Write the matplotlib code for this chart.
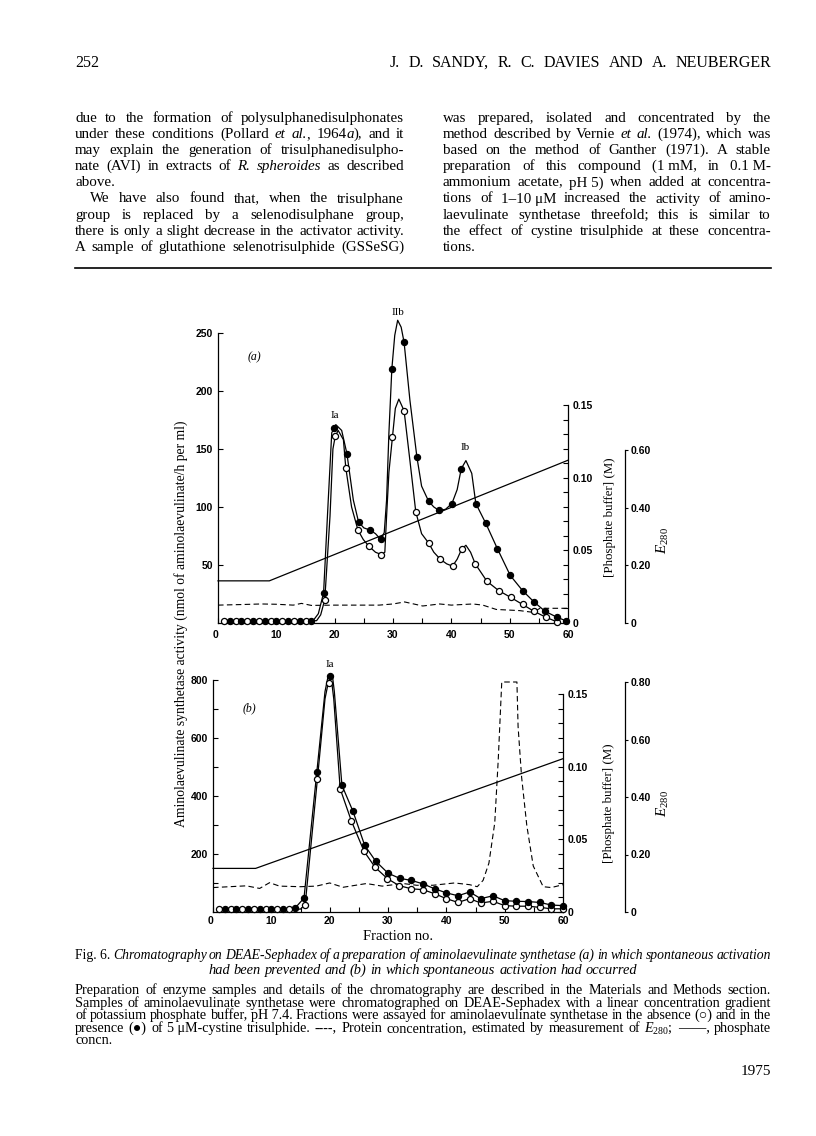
import numpy as np
import matplotlib
matplotlib.use('Agg')
import matplotlib.pyplot as plt
from matplotlib.lines import Line2D
from matplotlib.font_manager import FontProperties

# page size in pixels (saved at dpi 100)
W, H = 816, 1136
SERIF = ['Liberation Serif', 'DejaVu Serif', 'DejaVu Sans']
TICKF = 'Liberation Sans'

plt.rcParams['mathtext.fontset'] = 'custom'
plt.rcParams['mathtext.rm'] = 'Liberation Serif'
plt.rcParams['mathtext.it'] = 'Liberation Serif:italic'

## Panel (a): spontaneous activation prevented
# assay points, open = no trisulphide, filled = with trisulphide
a_open_x = [1, 3, 5, 7, 9, 11, 13, 15, 18.3, 20.1, 21.9, 24.0, 25.9, 28.0, 29.9, 31.9,
            33.9, 36.1, 38.1, 40.2, 41.8, 44.1, 46.1, 48.1, 50.2, 52.2, 54.2, 56.2, 58.1]
a_open_y = [2, 2, 2, 2, 2, 2, 2, 2, 20, 161, 134, 80, 66, 59, 160, 183,
            96, 69, 55, 49, 64, 51, 36, 28, 22, 16, 10, 5, 1]
a_fill_x = [2, 4, 6, 8, 10, 12, 14, 16, 18.1, 19.8, 22.1, 24.1, 26.1, 27.9, 29.8, 31.9,
            34.1, 36.1, 37.9, 40.1, 41.7, 44.2, 45.9, 47.9, 50.1, 52.2, 54.2, 56.1, 58.1, 59.6]
a_fill_y = [2, 2, 2, 2, 2, 2, 2, 2, 26, 168, 146, 87, 80, 72, 219, 242,
            143, 105, 97, 103, 133, 103, 86, 64, 41, 28, 18, 10, 5, 2]
# hand-drawn curves through the points (vertices)
a_fill_cx = [1, 16.3, 17.2, 18.1, 18.9, 19.5, 20.2, 21.2, 22.1, 23.2, 24.1, 25.0, 26.1, 27.0,
             27.9, 28.5, 28.9, 29.3, 29.8, 30.3, 30.8, 31.4, 31.9, 32.9, 34.1, 34.9, 36.1,
             37.0, 37.9, 39.0, 40.1, 41.0, 41.7, 42.5, 43.5, 44.2, 45.9, 47.9, 50.1, 52.2,
             54.2, 56.1, 58.1, 59.6]
a_fill_cy = [2, 2, 8, 26, 106, 164, 171, 166, 146, 106, 87, 82, 80, 77,
             72, 78, 106, 164, 219, 248, 261, 255, 242, 192, 143, 118, 105,
             100, 97, 98, 103, 115, 133, 140, 129, 103, 86, 64, 41, 28,
             18, 10, 5, 2]
a_open_cx = [1, 16.9, 17.6, 18.3, 19.2, 19.7, 20.1, 20.6, 21.5, 21.9, 22.9, 24.0, 24.9, 25.9,
             27.0, 28.0, 28.6, 28.9, 29.3, 29.9, 30.4, 31.0, 31.9, 32.9, 33.9, 34.9, 36.1,
             37.0, 38.1, 39.2, 40.2, 41.0, 41.8, 42.5, 43.3, 44.1, 46.1, 48.1, 50.2, 52.2,
             54.2, 56.2, 58.1]
a_open_cy = [2, 2, 7, 20, 92, 150, 161, 166, 158, 134, 100, 80, 72, 66,
             61, 59, 61, 92, 130, 160, 185, 193, 183, 140, 96, 77, 69,
             61, 55, 51, 49, 55, 64, 67, 61, 51, 36, 28, 22, 16,
             10, 5, 1]
# phosphate gradient (M) and E280 (dashed)
a_ph_x = [0, 8.8, 60]
a_ph_y = [0.029, 0.029, 0.112]
a_e_x = [0, 4, 7.4, 10, 12.9, 14.3, 16, 20, 25, 27.6, 30, 32, 35.1, 38, 40, 43.7,
         45.4, 47.7, 51.7, 54, 55.2, 60]
a_e_y = [0.062, 0.064, 0.066, 0.065, 0.062, 0.068, 0.061, 0.062, 0.062, 0.062, 0.066,
         0.073, 0.059, 0.066, 0.062, 0.066, 0.062, 0.047, 0.043, 0.037, 0.051, 0.051]

## Panel (b): spontaneous activation had occurred
b_open_x = [1, 3, 5, 7, 9, 11, 13, 15.8, 17.9, 19.9, 21.8, 23.7, 25.9, 27.8, 29.9, 31.9,
            34, 36, 38, 40, 42, 44, 45.9, 48, 50, 52, 54, 56, 58, 60]
b_open_y = [10, 10, 10, 10, 10, 10, 10, 25, 459, 790, 425, 315, 209, 154, 115, 91,
            80, 77, 63, 46, 33, 46, 31, 37, 22, 20, 20, 16, 11, 11]
b_fill_x = [2, 4, 6, 8, 10, 12, 14, 15.6, 17.8, 20.0, 22.1, 24, 26, 27.9, 30, 32,
            34, 36, 38, 40, 42, 44, 45.9, 48, 50, 52, 54, 56, 58, 60]
b_fill_y = [10, 10, 10, 10, 10, 10, 14, 48, 483, 813, 437, 347, 230, 175, 134, 116,
            109, 97, 80, 66, 56, 69, 46, 56, 39, 37, 36, 33, 24, 22]
b_fill_cx = [2, 14, 15.6, 17.8, 19.2, 19.7, 20.1, 20.5, 20.8, 22.1, 24, 26, 27.9, 30, 32,
             34, 36, 38, 40, 42, 44, 45.9, 48, 50, 52, 54, 56, 58, 60]
b_fill_cy = [10, 12, 48, 483, 760, 810, 818, 810, 760, 437, 347, 230, 175, 134, 116,
             109, 97, 80, 66, 56, 69, 46, 56, 39, 37, 36, 33, 24, 22]
b_open_cx = [1, 15, 15.8, 17.9, 19.2, 19.7, 20.1, 20.4, 20.7, 21.8, 23.7, 25.9, 27.8, 29.9,
             31.9, 34, 36, 38, 40, 42, 44, 45.9, 48, 50, 52, 54, 56, 58, 60]
b_open_cy = [10, 10, 25, 459, 735, 785, 793, 785, 735, 425, 315, 209, 154, 115,
             91, 80, 77, 63, 46, 33, 46, 31, 37, 22, 20, 20, 16, 11, 11]
b_ph_x = [0, 7.3, 60]
b_ph_y = [0.030, 0.030, 0.1055]
b_e_x = [0, 5.7, 8, 9.7, 11.4, 15, 17.7, 20, 22.3, 26.3, 29, 32.6, 34.9, 37.7, 41.4, 44,
         45.3, 46.3, 47.3, 48.3, 48.9, 49.5, 52.1, 52.3, 52.9, 53.8, 54.9, 56.6, 58, 60]
b_e_y = [0.085, 0.091, 0.082, 0.102, 0.090, 0.088, 0.090, 0.101, 0.086, 0.099, 0.090,
         0.099, 0.093, 0.093, 0.101, 0.095, 0.088, 0.11, 0.17, 0.31, 0.53, 0.80, 0.80,
         0.645, 0.47, 0.30, 0.16, 0.088, 0.085, 0.095]

# tick labels
x_ticks = [0, 10, 20, 30, 40, 50, 60]
a_yticks = [50, 100, 150, 200, 250]
b_yticks = [200, 400, 600, 800]
b_yminor = [100, 300, 500, 700]
ph_ticks = [0, 0.05, 0.10, 0.15]
ph_labels = ['0', '0.05', '0.10', '0.15']
a_eticks = [0, 0.2, 0.4, 0.6]
a_elabels = ['0', '0.20', '0.40', '0.60']
b_eticks = [0, 0.2, 0.4, 0.6, 0.8]
b_elabels = ['0', '0.20', '0.40', '0.60', '0.80']

# peak names and where they sit (data coords)
a_peaks = [('Ia', 20.1, 179), ('IIb', 30.9, 268), ('Ib', 42.3, 151)]
b_peaks = [('Ia', 20.1, 852)]

## Page text
header_l = '252'
header_r = 'J. D. SANDY, R. C. DAVIES AND A. NEUBERGER'
col_left = [
    'due to the formation of polysulphanedisulphonates',
    'under these conditions (Pollard *et al.*, 1964*a*), and it',
    'may explain the generation of trisulphanedisulpho-',
    'nate (AVI) in extracts of *R. spheroides* as described',
    'above.',
    'We have also found that, when the trisulphane',
    'group is replaced by a selenodisulphane group,',
    'there is only a slight decrease in the activator activity.',
    'A sample of glutathione selenotrisulphide (GSSeSG)',
]
col_right = [
    'was prepared, isolated and concentrated by the',
    'method described by Vernie *et al.* (1974), which was',
    'based on the method of Ganther (1971). A stable',
    'preparation of this compound (1\u00a0mM, in 0.1\u00a0M-',
    'ammonium acetate, pH\u00a05) when added at concentra-',
    'tions of 1\u201310\u00a0\u03bcM increased the activity of amino-',
    'laevulinate synthetase threefold; this is similar to',
    'the effect of cystine trisulphide at these concentra-',
    'tions.',
]
fig_title = [
    'Fig.\u00a06. *Chromatography on DEAE-Sephadex of a preparation of aminolaevulinate '
    'synthetase (a) in which spontaneous activation*',
    '*had been prevented and (b) in which spontaneous activation had occurred*',
]
fig_legend = [
    'Preparation of enzyme samples and details of the chromatography are described in the '
    'Materials and Methods section.',
    'Samples of aminolaevulinate synthetase were chromatographed on DEAE-Sephadex with a '
    'linear concentration gradient',
    'of potassium phosphate buffer, pH\u00a07.4. Fractions were assayed for aminolaevulinate '
    'synthetase in the absence (\u25cb) and in the',
    'presence (\u25cf) of 5\u00a0\u03bcM-cystine trisulphide. ----, Protein concentration, '
    'estimated by measurement of $E_{280}$; \u2014\u2014, phosphate',
    'concn.',
]
footer = '1975'
ylab = 'Aminolaevulinate synthetase activity (nmol of aminolaevulinate/h per ml)'

fig = plt.figure(figsize=(W / 100, H / 100), dpi=100)
R = fig.canvas.get_renderer()


def box(x0, y0, x1, y1):
    # pixel box, origin top-left -> figure rect
    return [x0 / W, 1 - y1 / H, (x1 - x0) / W, (y1 - y0) / H]


def ftext(x, y, s, **kw):
    return fig.text(x / W, 1 - y / H, s, **kw)


def parse(line):
    words, ital = [], False
    for w in line.split(' '):
        segs = []
        for k, p in enumerate(w.split('*')):
            if k:
                ital = not ital
            if p:
                segs.append((p, ital))
        words.append(segs)
    return words


def width(s, ital, size):
    fp = FontProperties(family=SERIF, style='italic' if ital else 'normal', size=size)
    return R.get_text_width_height_descent(s, fp, ismath='$' in s)[0]


# one line of type, justified between x0 and x1 unless told otherwise
def put(line, x0, x1, y, size, just=True, align='left'):
    words = parse(line)
    while True:
        ws = [[width(s, it, size) for s, it in segs] for segs in words]
        tot = sum(sum(w) for w in ws)
        n = len(words)
        gap = (x1 - x0 - tot) / (n - 1) if (just and n > 1) else size * 1.389 * 0.25
        if gap >= 2.2 or size < 6:
            break
        size -= 0.1
    run = tot + gap * (n - 1)
    x = x0 if align == 'left' else (x1 - run if align == 'right' else (x0 + x1 - run) / 2)
    for segs, w in zip(words, ws):
        for (s, it), wi in zip(segs, w):
            ftext(x, y, s, fontsize=size, family=SERIF, style='italic' if it else 'normal',
                  va='baseline', ha='left')
            x += wi
        x += gap


def panel(px, ymax, ymaj, ymin, ph_top, e_top, e_pos, eticks, elabels, xpad):
    ax = fig.add_axes(box(*px))
    ax.set_xlim(0, 60)
    ax.set_ylim(0, ymax)
    for s in ['top', 'right']:
        ax.spines[s].set_visible(False)
    lab = dict(fontfamily=TICKF, fontweight='bold', fontsize=7.5)
    ax.set_xticks(x_ticks, [str(t) for t in x_ticks], **lab)
    ax.set_xticks([5, 15, 25, 35, 45, 55], minor=True)
    ax.set_yticks(ymaj, [str(t) for t in ymaj], **lab)
    ax.set_yticks(ymin, minor=True)
    ax.tick_params(which='both', direction='in', length=3.3, width=0.8)
    ax.tick_params(axis='x', pad=xpad)
    ax.tick_params(axis='y', pad=3.6)
    ax.xaxis.get_major_ticks()[0].label1.set_horizontalalignment('right')

    ph = ax.twinx()
    ph.set_ylim(0, ph_top)
    for s in ['top', 'left', 'bottom']:
        ph.spines[s].set_visible(False)
    ph.spines['right'].set_bounds(0, 0.15)
    ph.set_yticks(ph_ticks, ph_labels, **lab)
    ph.set_yticks(np.linspace(0, 0.15, 16), minor=True)
    ph.tick_params(which='both', direction='in', length=3.3, width=0.8, pad=3.6)

    e = ax.twinx()
    e.set_ylim(0, e_top)
    for s in ['top', 'left', 'bottom']:
        e.spines[s].set_visible(False)
    e.spines['right'].set_position(('axes', e_pos))
    e.spines['right'].set_bounds(0, eticks[-1])
    e.set_yticks(eticks, elabels, **lab)
    e.tick_params(direction='out', length=2.2, width=0.8, pad=1.5)

    for a in (ax, ph, e):
        for s in a.spines.values():
            s.set_linewidth(0.9)
    # activity curves on top of the other two layers
    ax.set_zorder(3)
    ax.patch.set_visible(False)
    return ax, ph, e


def curves(ax, ph, e, ox, oy, fx, fy, ocx, ocy, fcx, fcy, phx, phy, ex, ey):
    e.plot(ex, ey, color='k', lw=0.8, ls=(0, (5, 3)), clip_on=False)
    ph.plot(phx, phy, color='k', lw=0.9, clip_on=False)
    ax.plot(fcx, fcy, color='k', lw=0.9, clip_on=False, zorder=3)
    ax.plot(ocx, ocy, color='k', lw=0.9, clip_on=False, zorder=3)
    ax.plot(ox, oy, 'o', ms=4.4, mfc='white', mec='k', mew=0.9, clip_on=False, zorder=4)
    ax.plot(fx, fy, 'o', ms=4.4, mfc='k', mec='k', mew=0.9, clip_on=False, zorder=5)


axa, pha, ea = panel((218, 333, 568, 623), 250, a_yticks, [], 0.15 * 290 / 218,
                     0.6 * 290 / 173, (625 - 218) / 350, a_eticks, a_elabels, 5.2)
curves(axa, pha, ea, a_open_x, a_open_y, a_fill_x, a_fill_y, a_open_cx, a_open_cy,
       a_fill_cx, a_fill_cy, a_ph_x, a_ph_y, a_e_x, a_e_y)
for name, x, y in a_peaks:
    axa.text(x, y, name, family=SERIF, fontsize=8, ha='center', va='center')
axa.text(0.105, 0.915, '(a)', transform=axa.transAxes, family=SERIF, style='italic',
         fontsize=8.5, ha='center', va='center')

axb, phb, eb = panel((213, 680, 563, 912), 800, b_yticks, b_yminor, 0.15 * 232 / 218,
                     0.8 * 232 / 230, (625 - 213) / 350, b_eticks, b_elabels, 3.0)
curves(axb, phb, eb, b_open_x, b_open_y, b_fill_x, b_fill_y, b_open_cx, b_open_cy,
       b_fill_cx, b_fill_cy, b_ph_x, b_ph_y, b_e_x, b_e_y)
for name, x, y in b_peaks:
    axb.text(x, y, name, family=SERIF, fontsize=8, ha='center', va='center')
axb.text(0.103, 0.88, '(b)', transform=axb.transAxes, family=SERIF, style='italic',
         fontsize=8.5, ha='center', va='center')

# axis titles
ftext(181, 624, ylab, family=SERIF, fontsize=9.8, rotation=90, ha='center', va='center')
ftext(610, 517, '[Phosphate buffer] (M)', family=SERIF, fontsize=9.3, rotation=90,
      ha='center', va='center')
ftext(609, 803, '[Phosphate buffer] (M)', family=SERIF, fontsize=9.3, rotation=90,
      ha='center', va='center')
ftext(663, 540, '$E_{280}$', fontsize=11, rotation=90, ha='center', va='center')
ftext(663, 803, '$E_{280}$', fontsize=11, rotation=90, ha='center', va='center')
ftext(398, 937, 'Fraction no.', family=SERIF, fontsize=10.5, ha='center', va='center')

# running head, columns, rule
L, Rt = 75, 771
put(header_l, L, Rt, 67, 11.5, just=False)
put(header_r, 390, Rt, 67, 11.5)
for i, line in enumerate(col_left):
    put(line, L + (15 if i == 5 else 0), 404, 122 + 16.1 * i, 10.8, just=(i != 4))
for i, line in enumerate(col_right):
    put(line, 443, Rt, 122 + 16.1 * i, 10.8, just=(i != 8))
fig.add_artist(Line2D([L / W, Rt / W], [1 - 268 / H] * 2, color='k', lw=1.2))

# figure caption and legend
put(fig_title[0], L, Rt, 959, 10.4)
put(fig_title[1], L, Rt, 974, 10.4, just=False, align='center')
for i, line in enumerate(fig_legend):
    put(line, L, Rt, 994 + 12.6 * i, 10.2, just=(i != 4))
put(footer, L, Rt, 1075, 11, just=False, align='right')

fig.savefig('out.png', dpi=100)
